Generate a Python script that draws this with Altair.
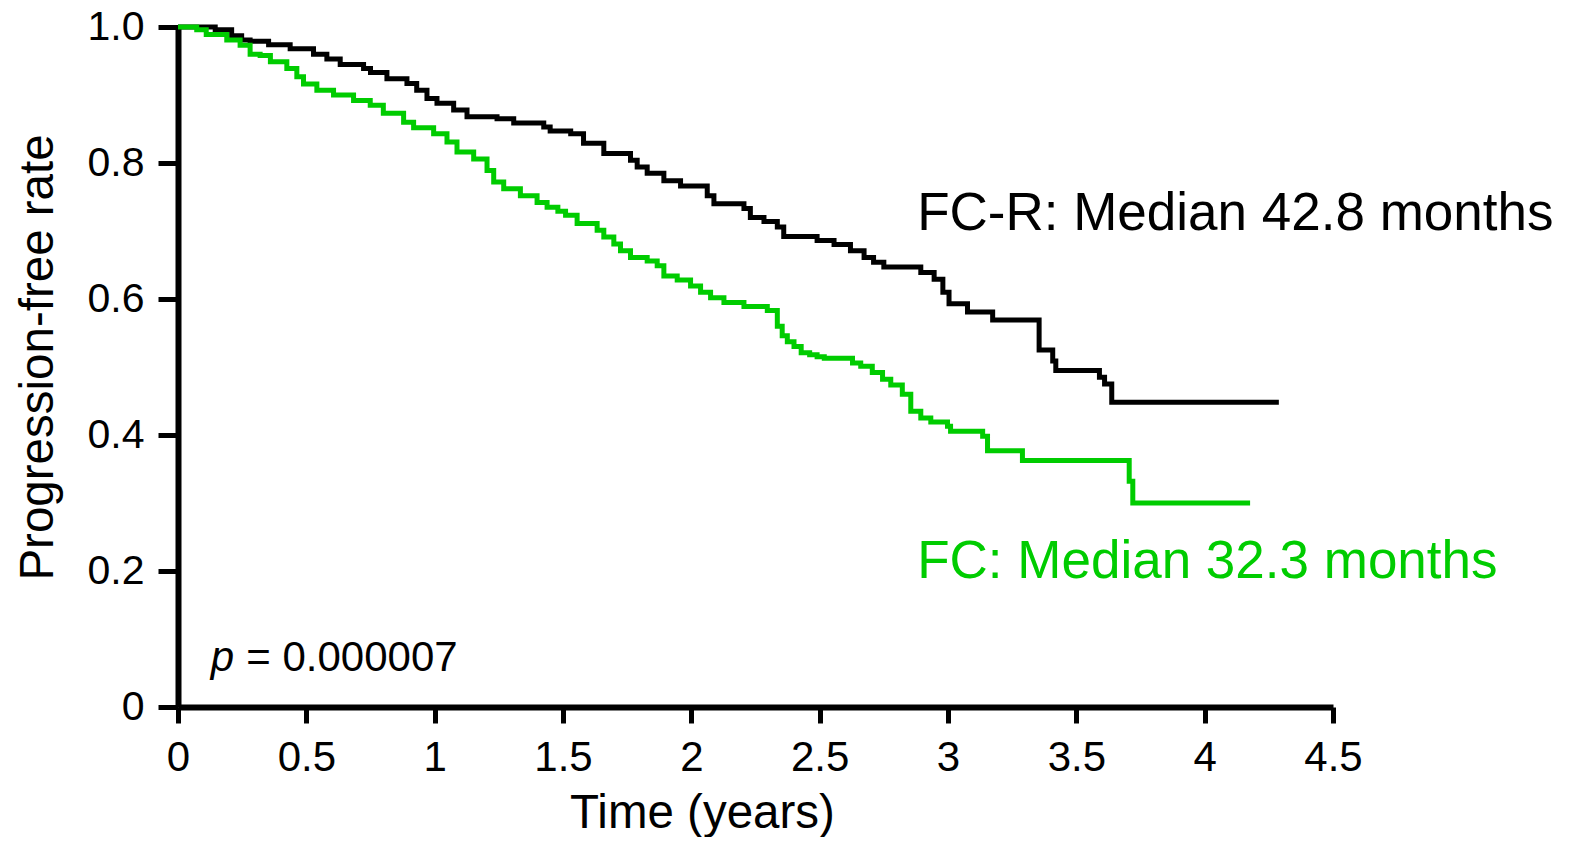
import altair as alt
import pandas as pd

# FC-R arm (black)
fcr_time = [0.0, 0.145, 0.209, 0.248, 0.281, 0.353, 0.437, 0.528, 0.580, 0.632, 0.723, 0.750,
            0.814, 0.892, 0.930, 0.970, 1.009, 1.074, 1.126, 1.243, 1.308, 1.425, 1.450, 1.530,
            1.580, 1.659, 1.763, 1.789, 1.828, 1.893, 1.958, 2.062, 2.088, 2.205, 2.230, 2.283,
            2.335, 2.360, 2.490, 2.556, 2.620, 2.673, 2.710, 2.750, 2.894, 2.946, 2.980, 3.004,
            3.076, 3.174, 3.355, 3.408, 3.420, 3.590, 3.610, 3.638, 4.289]
fcr_surv = [1.000, 0.996, 0.987, 0.981, 0.979, 0.974, 0.968, 0.960, 0.953, 0.945, 0.939, 0.933,
            0.924, 0.917, 0.907, 0.895, 0.888, 0.878, 0.868, 0.865, 0.859, 0.853, 0.847, 0.843,
            0.829, 0.814, 0.804, 0.794, 0.785, 0.774, 0.766, 0.752, 0.740, 0.733, 0.720, 0.714,
            0.706, 0.692, 0.686, 0.680, 0.671, 0.661, 0.654, 0.647, 0.639, 0.629, 0.610, 0.593,
            0.581, 0.569, 0.525, 0.509, 0.495, 0.485, 0.475, 0.448, 0.448]

# FC arm (green)
fc_time = [0.0, 0.073, 0.110, 0.190, 0.242, 0.281, 0.320, 0.360, 0.424, 0.463, 0.489, 0.541,
           0.606, 0.684, 0.749, 0.800, 0.879, 0.918, 0.996, 1.048, 1.087, 1.152, 1.204, 1.230,
           1.269, 1.334, 1.399, 1.438, 1.480, 1.510, 1.555, 1.633, 1.659, 1.698, 1.724, 1.763,
           1.828, 1.867, 1.893, 1.945, 1.997, 2.036, 2.075, 2.127, 2.205, 2.296, 2.335, 2.354,
           2.374, 2.400, 2.428, 2.461, 2.490, 2.518, 2.628, 2.660, 2.705, 2.745, 2.777, 2.822,
           2.855, 2.894, 2.933, 2.998, 3.010, 3.135, 3.154, 3.290, 3.706, 3.720, 4.177]
fc_surv = [1.000, 0.996, 0.989, 0.981, 0.973, 0.960, 0.958, 0.949, 0.939, 0.927, 0.916, 0.907,
           0.900, 0.892, 0.885, 0.873, 0.860, 0.852, 0.843, 0.831, 0.816, 0.806, 0.789, 0.772,
           0.762, 0.752, 0.742, 0.735, 0.729, 0.723, 0.711, 0.701, 0.691, 0.681, 0.671, 0.661,
           0.656, 0.649, 0.634, 0.628, 0.619, 0.610, 0.602, 0.595, 0.589, 0.583, 0.560, 0.546,
           0.537, 0.530, 0.521, 0.518, 0.515, 0.513, 0.506, 0.501, 0.492, 0.482, 0.4735, 0.460,
           0.435, 0.425, 0.419, 0.413, 0.4056, 0.398, 0.377, 0.3624, 0.332, 0.300, 0.300]

x_ticks = [0, 0.5, 1, 1.5, 2, 2.5, 3, 3.5, 4, 4.5]
y_ticks = [0, 0.2, 0.4, 0.6, 0.8, 1.0]

label_fcr = "FC-R: Median 42.8 months"
label_fc = "FC: Median 32.3 months"
p_symbol = "p"
p_value = "= 0.000007"

FONT = "Liberation Sans"
GREEN = "#00cc00"

df = pd.concat([
    pd.DataFrame({"t": fcr_time, "s": fcr_surv, "arm": "FC-R"}),
    pd.DataFrame({"t": fc_time, "s": fc_surv, "arm": "FC"}),
])

x_scale = alt.Scale(domain=[0, 4.5], nice=False, zero=True)
y_scale = alt.Scale(domain=[0, 1], nice=False)

x_axis = alt.Axis(values=x_ticks, title="Time (years)", grid=False,
                  labelExpr="datum.value + ''", labelFont=FONT, labelFontSize=42,
                  labelColor="black", labelPadding=14, tickSize=16, tickWidth=5,
                  tickColor="black", domainColor="black", domainWidth=6,
                  titleFont=FONT, titleFontSize=47.5, titleFontWeight="normal",
                  titleColor="black", titlePadding=11, titleX=524, labelFlush=False)
y_axis = alt.Axis(values=y_ticks, title="Progression-free rate", grid=False,
                  labelExpr="datum.value == 0 ? '0' : format(datum.value, '.1f')",
                  labelFont=FONT, labelFontSize=41, labelColor="black", labelPadding=14,
                  tickSize=20, tickWidth=5, tickColor="black", domainColor="black",
                  domainWidth=6, titleFont=FONT, titleFontSize=47.5,
                  titleFontWeight="normal", titleColor="black", titlePadding=25,
                  titleY=330, labelFlush=False)

lines = alt.Chart(df).mark_line(interpolate="step-after", strokeWidth=5, clip=False).encode(
    x=alt.X("t:Q", scale=x_scale, axis=x_axis),
    y=alt.Y("s:Q", scale=y_scale, axis=y_axis),
    color=alt.Color("arm:N", scale=alt.Scale(domain=["FC-R", "FC"], range=["black", GREEN]),
                    legend=None),
    order=alt.Order("t:Q"),
)

txt_fcr = alt.Chart().mark_text(align="left", baseline="alphabetic", font=FONT, fontSize=53,
                                color="black").encode(
    x=alt.datum(2.88), y=alt.datum(0.702), text=alt.datum(label_fcr))
txt_fc = alt.Chart().mark_text(align="left", baseline="alphabetic", font=FONT, fontSize=53,
                               color=GREEN).encode(
    x=alt.datum(2.88), y=alt.datum(0.19), text=alt.datum(label_fc))
txt_p = alt.Chart().mark_text(align="left", baseline="alphabetic", font=FONT, fontSize=42,
                              fontStyle="italic", color="black").encode(
    x=alt.datum(0.128), y=alt.datum(0.053), text=alt.datum(p_symbol))
txt_pv = alt.Chart().mark_text(align="left", baseline="alphabetic", font=FONT, fontSize=42,
                               color="black").encode(
    x=alt.datum(0.266), y=alt.datum(0.053), text=alt.datum(p_value))

chart = alt.layer(lines, txt_fcr, txt_fc, txt_p, txt_pv).properties(
    width=1155, height=680,
    background="white",
    autosize=alt.AutoSizeParams(type="none"),
    padding={"left": 170, "top": 19, "right": 232, "bottom": 130},
).configure_view(stroke=None, strokeWidth=0)

chart.save("out.html", embed_options={"renderer": "svg", "actions": False})
